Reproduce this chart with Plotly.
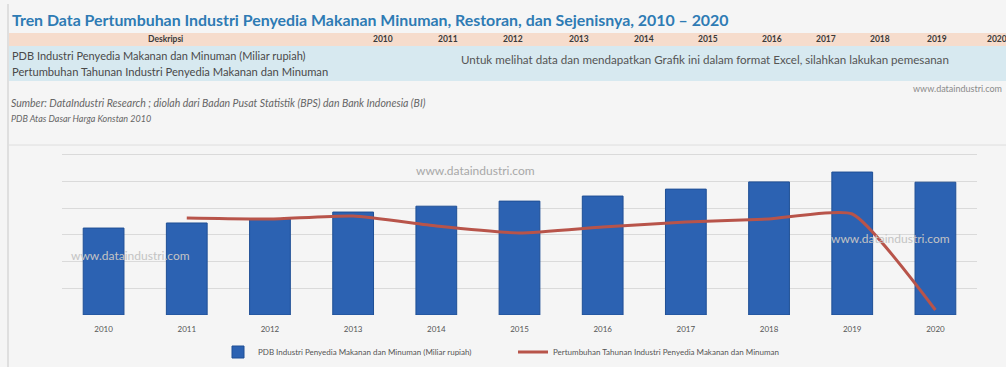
import plotly.graph_objects as go

years = ["2010", "2011", "2012", "2013", "2014", "2015", "2016", "2017", "2018", "2019", "2020"]
pdb_values = [163000, 172500, 180000, 193000, 204000, 213500, 223000, 236000, 249500, 268000, 249000]
growth_years = ["2011", "2012", "2013", "2014", "2015", "2016", "2017", "2018", "2019", "2020"]
growth_values = [6.9, 6.8, 7.1, 6.1, 5.4, 6.0, 6.5, 6.8, 7.3, -2.3]

bar_name = "PDB Industri Penyedia Makanan dan Minuman (Miliar rupiah)"
line_name = "Pertumbuhan Tahunan Industri Penyedia Makanan dan Minuman"
title_text = "Tren Data Pertumbuhan Industri Penyedia Makanan Minuman, Restoran, dan Sejenisnya, 2010 \u2013 2020"
header_years = years
header_x = [383, 448, 513, 579, 644, 708, 772, 826, 880, 937, 997]

W, H = 1006, 367
L, R, T, B = 62, 977, 152, 315


def xp(px):
    return (px - L) / (R - L)


def yp(py):
    return (B - py) / (B - T)


FONT = "Lato"

fig = go.Figure()
fig.add_trace(go.Bar(
    x=years, y=pdb_values, name=bar_name,
    marker=dict(color="#2c62b2", line=dict(color="#1f4f95", width=1)),
    yaxis="y",
))
fig.add_trace(go.Scatter(
    x=growth_years, y=growth_values, name=line_name, mode="lines",
    line=dict(color="#b8544a", width=3, shape="spline", smoothing=0.5),
    yaxis="y2",
))

shapes = []
shapes.append(dict(type="line", xref="paper", yref="paper", x0=xp(8), x1=xp(8), y0=yp(4), y1=yp(367),
                   line=dict(color="#c9c9c9", width=1), layer="below"))
shapes.append(dict(type="rect", xref="paper", yref="paper", x0=xp(9), x1=xp(1006), y0=yp(33), y1=yp(46),
                   fillcolor="#f6dccc", line=dict(width=0), layer="below"))
shapes.append(dict(type="rect", xref="paper", yref="paper", x0=xp(9), x1=xp(1006), y0=yp(46), y1=yp(81),
                   fillcolor="#d7e9f0", line=dict(width=0), layer="below"))
shapes.append(dict(type="line", xref="paper", yref="paper", x0=xp(9), x1=xp(1006), y0=yp(145), y1=yp(145),
                   line=dict(color="#dedede", width=1), layer="below"))

annotations = []


def ann(text, x, y, size, color="#4a4a4a", anchor="left", bold=False, italic=False, family=FONT):
    t = text
    if bold:
        t = "<b>" + t + "</b>"
    if italic:
        t = "<i>" + t + "</i>"
    annotations.append(dict(text=t, x=xp(x), y=yp(y), xref="paper", yref="paper",
                            xanchor=anchor, yanchor="middle", showarrow=False,
                            font=dict(size=size, color=color, family=family)))


ann(title_text, 10, 19, 15.9, color="#2e7bb4", bold=True)
ann("Deskripsi", 165, 39, 8.5, color="#3a3a3a", anchor="center", bold=True)
for yx, yl in zip(header_x, header_years):
    ann(yl, yx, 39, 8.5, color="#3a3a3a", anchor="center", bold=True)
ann(bar_name, 10, 55, 11)
ann(line_name, 10, 72, 11.2)
ann("Untuk melihat data dan mendapatkan Grafik ini dalam format Excel, silahkan lakukan pemesanan",
    705, 60, 11.6, color="#555555", anchor="center")
ann("www.dataindustri.com", 1004, 88, 9, color="#8a8a8a", anchor="right")
ann("Sumber: DataIndustri Research ; diolah dari Badan Pusat Statistik (BPS) dan Bank Indonesia (BI)",
    9, 103, 10.5, color="#666666", italic=True)
ann("PDB Atas Dasar Harga Konstan 2010", 9, 118, 9, color="#666666", italic=True)
ann("www.dataindustri.com", 475, 170, 12, color="#a8a8a8", anchor="center")
ann("www.dataindustri.com", 130, 255, 12, color="#c4c4c4", anchor="center")
ann("www.dataindustri.com", 890, 238, 12, color="#c4c4c4", anchor="center")

fig.update_layout(
    width=W, height=H,
    margin=dict(l=L, r=W - R, t=T, b=H - B, pad=0),
    paper_bgcolor="#f5f5f5", plot_bgcolor="#f5f5f5",
    bargap=0.51,
    showlegend=True,
    legend=dict(orientation="h", xref="container", yref="container",
                x=513 / W, xanchor="center", y=1 - 352 / H, yanchor="middle",
                font=dict(size=8, color="#555555", family=FONT), bgcolor="rgba(0,0,0,0)",
                itemwidth=30, tracegroupgap=0, entrywidth=250, entrywidthmode="pixels"),
    xaxis=dict(type="category", showgrid=False, showline=False, ticks="", zeroline=False,
               ticklabelstandoff=8, automargin=False,
               tickfont=dict(size=8, color="#555555", family=FONT)),
    yaxis=dict(range=[0, 305600], dtick=50000, showticklabels=False, gridcolor="#dadada",
               gridwidth=1, zeroline=False, showline=False, automargin=False),
    yaxis2=dict(range=[-2.8, 13.5], overlaying="y", side="right", showgrid=False,
                showticklabels=False, zeroline=False, showline=False, automargin=False),
    shapes=shapes, annotations=annotations,
    font=dict(family=FONT),
)

fig.write_html("out.html", config={"displayModeBar": False})
